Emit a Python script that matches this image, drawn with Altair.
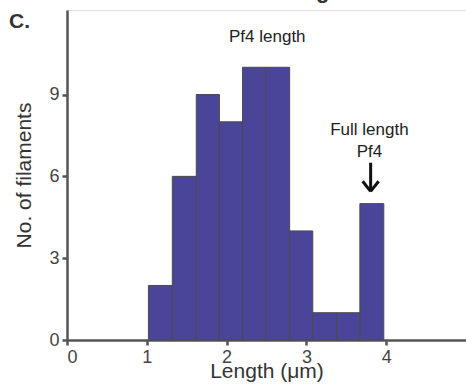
import altair as alt
import pandas as pd

# histogram data
bin_start = [1.02, 1.32, 1.62, 1.91, 2.20, 2.49, 2.79, 3.08, 3.38, 3.67]
bin_end = [1.32, 1.62, 1.91, 2.20, 2.49, 2.79, 3.08, 3.38, 3.67, 3.97]
counts = [2, 6, 9, 8, 10, 10, 4, 1, 1, 5]

x_ticks = [0, 1, 2, 3, 4]
y_ticks = [0, 3, 6, 9]

df = pd.DataFrame({"start": bin_start, "end": bin_end, "count": counts})

FONT = "Liberation Sans"
AX = "#555555"

xscale = alt.Scale(domain=[0, 5], nice=False, zero=False)
yscale = alt.Scale(domain=[0, 12.1], nice=False)

bars = alt.Chart(df).mark_rect(
    color="#4b4599", stroke="#4a4a4a", strokeWidth=1
).encode(
    x=alt.X("start:Q", scale=xscale,
            axis=alt.Axis(values=x_ticks, title="Length (μm)", grid=False,
                          format="d", labelFontSize=18, titleFontSize=21,
                          labelColor="#444444", titleColor="#333333",
                          domainColor=AX, domainWidth=2.5, tickColor=AX,
                          tickWidth=2.5, tickSize=5, labelPadding=3,
                          titlePadding=-6, labelFont=FONT, titleFont=FONT,
                          titleFontWeight="normal")),
    x2="end:Q",
    y=alt.Y("count:Q", scale=yscale,
            axis=alt.Axis(values=y_ticks, title="No. of filaments", grid=False,
                          labelFontSize=18, titleFontSize=21,
                          labelColor="#444444", titleColor="#333333",
                          domainColor=AX, domainWidth=2.5, tickColor=AX,
                          tickWidth=2.5, tickSize=5, labelPadding=3,
                          titlePadding=14, labelFont=FONT, titleFont=FONT,
                          titleFontWeight="normal")),
    y2=alt.datum(0),
)

# annotations
ann = pd.DataFrame({
    "x": [2.51, 3.79, 3.79],
    "y": [11.1, 7.7, 6.9],
    "t": ["Pf4 length", "Full length", "Pf4"],
})
texts = alt.Chart(ann).mark_text(
    font=FONT, fontSize=17, color="#222222", baseline="middle", align="center"
).encode(x=alt.X("x:Q", scale=xscale), y=alt.Y("y:Q", scale=yscale), text="t:N")

arrow = pd.DataFrame({
    "x": [3.805, 3.705, 3.905],
    "x2": [3.805, 3.805, 3.805],
    "y": [6.5, 5.82, 5.82],
    "y2": [5.45, 5.45, 5.45],
})
arrows = alt.Chart(arrow).mark_rule(color="#111111", strokeWidth=3, strokeCap="butt").encode(
    x=alt.X("x:Q", scale=xscale), x2="x2:Q",
    y=alt.Y("y:Q", scale=yscale), y2="y2:Q",
)

label_c = alt.Chart(pd.DataFrame({"t": ["C."]})).mark_text(
    font=FONT, fontSize=21, fontWeight="bold", color="#333333", align="left", baseline="middle"
).encode(x=alt.value(-58), y=alt.value(12), text="t:N")

top_title = alt.Chart(pd.DataFrame({"t": ["Length measurement"]})).mark_text(
    font=FONT, fontSize=22, fontWeight="bold", color="#333333", align="left", baseline="alphabetic"
).encode(x=alt.value(210), y=alt.value(-12), text="t:N")

chart = alt.layer(bars, texts, arrows, label_c, top_title).properties(
    width=399, height=330,
    autosize=alt.AutoSizeParams(type="none"),
    padding={"left": 67, "top": 10, "right": 0, "bottom": 51},
).configure_view(stroke=None).configure(background="white")

chart.save("out.html", embed_options={"renderer": "svg", "actions": False})
